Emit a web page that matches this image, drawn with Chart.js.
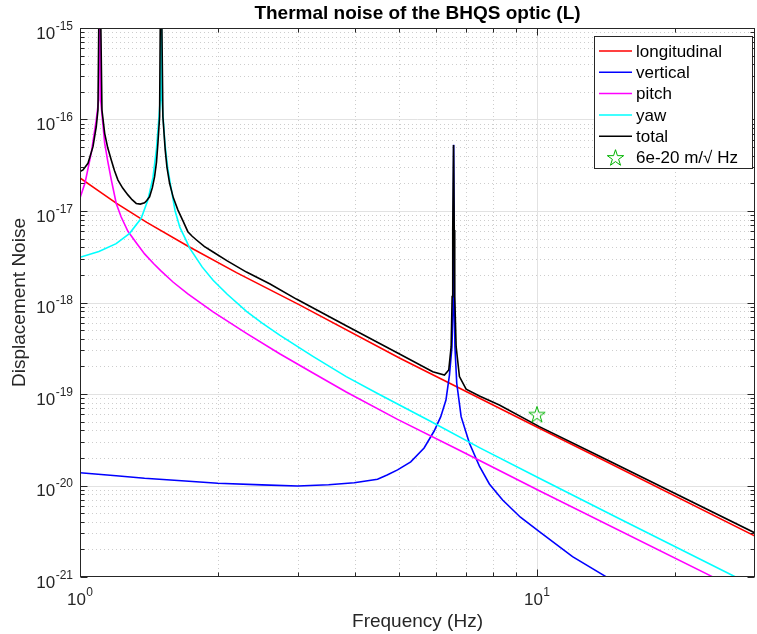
<!DOCTYPE html>
<html><head><meta charset="utf-8">
<script src="https://cdn.jsdelivr.net/npm/chart.js@4/dist/chart.umd.min.js"></script>
<style>html,body{margin:0;padding:0;background:#fff;}</style>
</head><body>
<canvas id="c" width="757" height="634" style="width:757px;height:634px;display:block"></canvas>
<script>
// ---------------- data ----------------
const titleText = 'Thermal noise of the BHQS optic (L)';
const xLabel = 'Frequency (Hz)';
const yLabel = 'Displacement Noise';
const xTickExps = [0, 1];
const yTickExps = [-21, -20, -19, -18, -17, -16, -15];
const legendLabels = ['longitudinal', 'vertical', 'pitch', 'yaw', 'total', '6e-20 m/\u221A Hz'];

const freqLong = [1, 1.1, 1.2, 1.4, 1.72, 2.2, 3.0, 5.0, 10.12, 13.68, 30];
const longitudinal = [2.30e-17, 1.65e-17, 1.22e-17, 7.5e-18, 4.14e-18, 2.12e-18, 9.6e-19, 2.47e-19, 4.22e-20, 2.00e-20, 2.80e-21];

const freqVert = [1, 1.2, 1.3845, 1.7, 2.0026, 2.5, 2.9948, 3.5, 3.9826, 4.4778, 4.7, 4.9534, 5.2939, 5.6623, 5.9571, 6.1585, 6.3216, 6.4339, 6.5153, 6.5482, 6.5713, 6.5979, 6.6145, 6.6746, 6.8240, 7.1154, 7.4824, 7.8672, 8.4109, 9.2, 10.12, 11.962, 14.153, 17.6];
const vertical = [1.38e-20, 1.28e-20, 1.20e-20, 1.12e-20, 1.06e-20, 1.015e-20, 9.89e-21, 1.02e-20, 1.07e-20, 1.17e-20, 1.30e-20, 1.48e-20, 1.81e-20, 2.57e-20, 3.94e-20, 5.65e-20, 8.59e-20, 1.61e-19, 3.27e-19, 7.67e-19, 5.3e-17, 7.67e-19, 3.27e-19, 1.31e-19, 5.65e-20, 2.89e-20, 1.63e-20, 1.04e-20, 6.95e-21, 4.5e-21, 3.13e-21, 1.67e-21, 1.01e-21, 5.6e-22];

const freqPitch = [1, 1.0255, 1.0585, 1.0854, 1.0986, 1.104, 1.1097, 1.1324, 1.15, 1.1706, 1.2003, 1.23, 1.2731, 1.33, 1.3845, 1.45, 1.5055, 1.6, 1.7219, 1.9556, 2.3136, 2.7348, 3.2, 3.8248, 4.9534, 6.6975, 10.12, 24.19, 30];
const pitch = [1.39e-17, 2.02e-17, 4.31e-17, 9.89e-17, 1.63e-16, 1e-14, 1.63e-16, 5.53e-17, 3.5e-17, 2.2e-17, 1.21e-17, 8.66e-18, 6.0e-18, 4.45e-18, 3.4e-18, 2.65e-18, 2.2e-18, 1.664e-18, 1.24e-18, 7.9e-19, 4.6e-19, 2.75e-19, 1.749e-19, 1.05e-19, 5.28e-20, 2.49e-20, 8.77e-21, 1.01e-21, 6.0e-22];

const freqYaw = [1, 1.1, 1.2, 1.2842, 1.3612, 1.4078, 1.4439, 1.4695, 1.4881, 1.4979, 1.503, 1.5108, 1.5338, 1.555, 1.5809, 1.615, 1.6542, 1.70, 1.7392, 1.85, 1.9556, 2.1, 2.3136, 2.5, 2.7348, 3.2336, 3.8248, 4.5, 5.8177, 7.5, 10.12, 15, 27.21, 30];
const yaw = [3.12e-18, 3.6e-18, 4.4e-18, 5.70e-18, 8.32e-18, 1.32e-17, 2.3e-17, 4.65e-17, 1.04e-16, 1.63e-16, 1e-14, 1.63e-16, 5.53e-17, 3.0e-17, 1.83e-17, 1.0e-17, 6.61e-18, 5.0e-18, 3.9e-18, 2.45e-18, 1.75e-18, 1.23e-18, 8.0e-19, 6.0e-19, 4.4e-19, 2.58e-19, 1.55e-19, 1.0e-19, 5.1e-20, 2.58e-20, 1.20e-20, 4.45e-21, 1.0e-21, 7.8e-22];

const freqTot = [1, 1.0152, 1.0411, 1.0676, 1.0854, 1.0947, 1.104, 1.1170, 1.1324, 1.15, 1.1706, 1.19, 1.2108, 1.24, 1.2731, 1.30, 1.3277, 1.355, 1.3845, 1.40, 1.4199, 1.44, 1.4563, 1.47, 1.4808, 1.4935, 1.503, 1.5185, 1.5362, 1.55, 1.5706, 1.60, 1.6373, 1.68, 1.7219, 1.76, 1.7988, 1.87, 1.9556, 2.1, 2.3136, 2.6, 2.9753, 3.8248, 5.003, 5.9150, 6.2740, 6.4113, 6.4891, 6.5219, 6.5416, 6.5679, 6.5911, 6.6077, 6.6545, 6.7658, 6.9978, 7.4824, 8.2724, 10.12, 13.68, 30];
const total = [2.69e-17, 2.81e-17, 3.32e-17, 5.05e-17, 8.34e-17, 1.27e-16, 1e-14, 1.27e-16, 7.06e-17, 4.9e-17, 3.61e-17, 2.75e-17, 2.18e-17, 1.78e-17, 1.50e-17, 1.33e-17, 1.21e-17, 1.19e-17, 1.23e-17, 1.30e-17, 1.43e-17, 1.8e-17, 2.37e-17, 3.4e-17, 5.50e-17, 1.07e-16, 1e-14, 1.07e-16, 4.65e-17, 3.0e-17, 2.01e-17, 1.4e-17, 1.03e-17, 7.8e-18, 5.94e-18, 5.3e-18, 4.82e-18, 4.1e-18, 3.56e-18, 2.85e-18, 2.15e-18, 1.6e-18, 1.09e-18, 5.57e-19, 2.74e-19, 1.75e-19, 1.61e-19, 1.83e-19, 3.29e-19, 1.16e-18, 6.19e-18, 5.26e-17, 6.19e-18, 1.16e-18, 3.29e-19, 1.55e-19, 1.13e-19, 9.51e-20, 7.59e-20, 4.40e-20, 2.10e-20, 3.03e-21];

const markerFreq = [10];
const markerValue = [6e-20];

// ---------------- styling ----------------
const FONT = '"Liberation Sans", Arial, Helvetica, sans-serif';
const AX = '#262626';
const colors = ['#ff0000', '#0000ff', '#ff00ff', '#00ffff', '#000000'];
const STAR = '#00b400';

function pts(xs, ys) { return xs.map((v, i) => ({x: v, y: ys[i]})); }

function starPath(ctx, cx, cy, R) {
  const r = R * 0.382;
  ctx.beginPath();
  for (let i = 0; i < 10; i++) {
    const ang = -Math.PI / 2 + i * Math.PI / 5;
    const rr = i % 2 === 0 ? R : r;
    const px = cx + rr * Math.cos(ang), py = cy + rr * Math.sin(ang);
    if (i === 0) ctx.moveTo(px, py); else ctx.lineTo(px, py);
  }
  ctx.closePath();
}
const starImg = document.createElement('canvas');
starImg.width = 22; starImg.height = 22;
(function () {
  const c = starImg.getContext('2d');
  c.strokeStyle = STAR; c.lineWidth = 1;
  starPath(c, 11, 11.8, 8.6);
  c.stroke();
})();

function drawPow(ctx, exp, x, yBase, yExp, align) {
  const base = '10', e = String(exp);
  ctx.font = '17px ' + FONT;
  const wb = ctx.measureText(base).width;
  ctx.font = '12px ' + FONT;
  const we = ctx.measureText(e).width + 0.5;
  let x0;
  if (align === 'right') x0 = x - wb - we;
  else x0 = x - (wb + we) / 2;
  ctx.textAlign = 'left';
  ctx.textBaseline = 'alphabetic';
  ctx.font = '17px ' + FONT;
  ctx.fillText(base, x0, yBase);
  ctx.font = '12px ' + FONT;
  ctx.fillText(e, x0 + wb + 0.5, yExp);
}

const look = {
  id: 'matlabLook',
  beforeDatasetsDraw(chart) {
    const {ctx, chartArea: a, scales: {x, y}} = chart;
    ctx.save();
    ctx.beginPath(); ctx.rect(a.left, a.top, a.right - a.left, a.bottom - a.top); ctx.clip();
    ctx.lineWidth = 1;
    ctx.strokeStyle = '#cdcdcd';
    ctx.setLineDash([1, 3]);
    for (let d = xTickExps[0]; d <= xTickExps[xTickExps.length - 1]; d++) {
      for (let m = 2; m <= 9; m++) {
        const v = m * Math.pow(10, d);
        if (v >= x.max) continue;
        const px = Math.round(x.getPixelForValue(v)) + 0.5;
        ctx.beginPath(); ctx.moveTo(px, a.top); ctx.lineTo(px, a.bottom); ctx.stroke();
      }
    }
    for (let i = 0; i < yTickExps.length - 1; i++) {
      for (let m = 2; m <= 9; m++) {
        const v = m * Math.pow(10, yTickExps[i]);
        const py = Math.round(y.getPixelForValue(v)) + 0.5;
        ctx.beginPath(); ctx.moveTo(a.left, py); ctx.lineTo(a.right, py); ctx.stroke();
      }
    }
    ctx.setLineDash([]);
    ctx.strokeStyle = '#e2e2e2';
    xTickExps.forEach(d => {
      const px = Math.round(x.getPixelForValue(Math.pow(10, d))) + 0.5;
      ctx.beginPath(); ctx.moveTo(px, a.top); ctx.lineTo(px, a.bottom); ctx.stroke();
    });
    yTickExps.forEach(d => {
      const py = Math.round(y.getPixelForValue(Math.pow(10, d))) + 0.5;
      ctx.beginPath(); ctx.moveTo(a.left, py); ctx.lineTo(a.right, py); ctx.stroke();
    });
    ctx.restore();
  },
  afterDatasetsDraw(chart) {
    const {ctx, chartArea: a, scales: {x, y}} = chart;
    ctx.save();
    ctx.strokeStyle = AX; ctx.fillStyle = AX; ctx.lineWidth = 1;
    const L = Math.round(a.left) + 0.5, R = Math.round(a.right) - 0.5;
    const T = Math.round(a.top) + 0.5, B = Math.round(a.bottom) - 0.5;
    const tick = (px, len, vertical) => {
      ctx.beginPath();
      if (vertical) {
        ctx.moveTo(px, B); ctx.lineTo(px, B - len);
        ctx.moveTo(px, T); ctx.lineTo(px, T + len);
      } else {
        ctx.moveTo(L, px); ctx.lineTo(L + len, px);
        ctx.moveTo(R, px); ctx.lineTo(R - len, px);
      }
      ctx.stroke();
    };
    for (let d = xTickExps[0]; d <= xTickExps[xTickExps.length - 1]; d++) {
      tick(Math.round(x.getPixelForValue(Math.pow(10, d))) + 0.5, 7, true);
      for (let m = 2; m <= 9; m++) {
        const v = m * Math.pow(10, d);
        if (v >= x.max) continue;
        tick(Math.round(x.getPixelForValue(v)) + 0.5, 4, true);
      }
    }
    yTickExps.forEach((d, i) => {
      tick(Math.round(y.getPixelForValue(Math.pow(10, d))) + 0.5, 7, false);
      if (i < yTickExps.length - 1) {
        for (let m = 2; m <= 9; m++) {
          tick(Math.round(y.getPixelForValue(m * Math.pow(10, d))) + 0.5, 4, false);
        }
      }
    });
    ctx.strokeRect(L, T, R - L, B - T);
    ctx.fillStyle = AX;
    yTickExps.forEach(d => {
      const py = y.getPixelForValue(Math.pow(10, d));
      drawPow(ctx, d, 73, py + 10.5, py + 1.5, 'right');
    });
    xTickExps.forEach(d => {
      const px = x.getPixelForValue(Math.pow(10, d));
      drawPow(ctx, d, px, 605, 595.5, 'center');
    });
    ctx.font = '19px ' + FONT;
    ctx.textAlign = 'center'; ctx.textBaseline = 'alphabetic';
    ctx.fillText(xLabel, (a.left + a.right) / 2, 627);
    ctx.save();
    ctx.translate(25, (a.top + a.bottom) / 2);
    ctx.rotate(-Math.PI / 2);
    ctx.fillText(yLabel, 0, 0);
    ctx.restore();
    ctx.fillStyle = '#000';
    ctx.font = 'bold 19px ' + FONT;
    ctx.fillText(titleText, (a.left + a.right) / 2, 19);
    const bx = 594.5, by = 36.5, bw = 158, bh = 132;
    ctx.fillStyle = '#fff';
    ctx.fillRect(bx, by, bw, bh);
    ctx.strokeStyle = AX;
    ctx.strokeRect(bx, by, bw, bh);
    ctx.font = '17px ' + FONT;
    ctx.textAlign = 'left'; ctx.textBaseline = 'middle';
    legendLabels.forEach((lab, i) => {
      const ry = 51 + i * 21.3;
      if (i < 5) {
        ctx.strokeStyle = colors[i]; ctx.lineWidth = 1.5;
        ctx.beginPath(); ctx.moveTo(599, ry); ctx.lineTo(632, ry); ctx.stroke();
      } else {
        ctx.strokeStyle = STAR; ctx.lineWidth = 1;
        starPath(ctx, 615.5, ry + 0.8, 8.6); ctx.stroke();
      }
      ctx.fillStyle = '#000';
      ctx.fillText(lab, 636, ry + 1);
    });
    ctx.restore();
  }
};

const ds = (label, xs, ys, color, order) => ({
  label, data: pts(xs, ys), borderColor: color, backgroundColor: color,
  borderWidth: 1.6, pointRadius: 0, tension: 0, fill: false, order
});

new Chart(document.getElementById('c').getContext('2d'), {
  type: 'line',
  data: {
    datasets: [
      ds(legendLabels[0], freqLong, longitudinal, colors[0], 5),
      ds(legendLabels[1], freqVert, vertical, colors[1], 4),
      ds(legendLabels[2], freqPitch, pitch, colors[2], 3),
      ds(legendLabels[3], freqYaw, yaw, colors[3], 2),
      ds(legendLabels[4], freqTot, total, colors[4], 1),
      {label: legendLabels[5], data: pts(markerFreq, markerValue), showLine: false,
       pointStyle: starImg, pointRadius: 8, borderColor: STAR, backgroundColor: STAR, order: 0}
    ]
  },
  options: {
    responsive: false, animation: false, devicePixelRatio: 1, events: [],
    layout: {autoPadding: false, padding: {left: 80, right: 2, top: 28, bottom: 57}},
    plugins: {legend: {display: false}, title: {display: false}, tooltip: {enabled: false}},
    scales: {
      x: {type: 'logarithmic', min: 1, max: 30, display: false},
      y: {type: 'logarithmic', min: 1e-21, max: 1e-15, display: false}
    }
  },
  plugins: [look]
});
</script>
</body></html>
